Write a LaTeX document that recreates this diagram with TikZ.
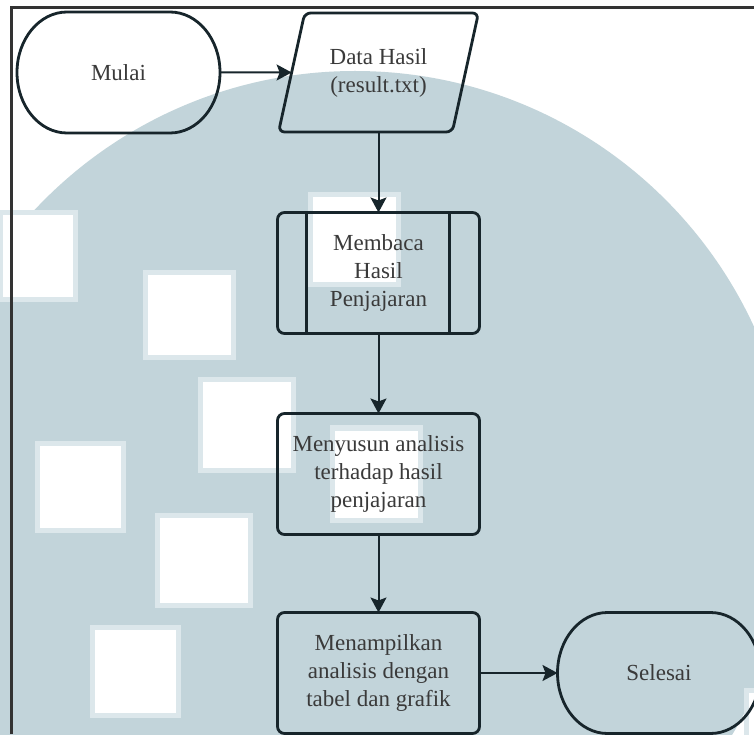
\documentclass[tikz,border=0pt]{standalone}
\usepackage{fontspec}
\setmainfont{Liberation Serif}
\usetikzlibrary{shapes.geometric, arrows.meta}
\definecolor{wash}{HTML}{C2D4DA}
\definecolor{halo}{HTML}{DCE7EB}
\definecolor{ink}{HTML}{17252B}
\definecolor{label}{HTML}{3A3A3A}
\definecolor{frameline}{HTML}{333333}
\begin{document}
\begin{tikzpicture}[x=1pt, y=1pt,
  txt/.style={text=label, align=center, font=\fontsize{23}{28}\selectfont},
  flowbox/.style={txt, draw=ink, line width=2.8pt, rounded corners=7pt,
    minimum width=202pt, minimum height=121pt, inner sep=0pt, outer sep=0pt},
  terminal/.style={txt, minimum width=203pt, minimum height=121pt, inner sep=0pt, outer sep=0pt},
  outline/.style={draw=ink, line width=2.8pt},
  iobox/.style={txt, trapezium, draw=ink, line width=2.8pt, rounded corners=6pt,
    trapezium left angle=70.5, trapezium right angle=109.5, trapezium stretches=true,
    minimum width=200pt, minimum height=119pt, inner sep=0pt, outer sep=0pt},
  flow/.style={draw=ink, line width=2pt, -{Stealth[length=15pt, width=16pt, inset=3pt]}},
  tile/.style={fill=white, draw=halo, line width=5pt}
]
\useasboundingbox (0,0) rectangle (754,734);
\fill[white] (0,0) rectangle (754,734);

% watermark: large disc with white tiles
\begin{scope}
  \clip (0,0) rectangle (754,734);
  \fill[wash] (355,224) circle[radius=439];
  \fill[tile] (0,434) rectangle (75,521);
  \fill[tile] (145,376) rectangle (233,461);
  \fill[tile] (200,264) rectangle (293,354);
  \fill[tile] (37,204) rectangle (123,291);
  \fill[tile] (157,129) rectangle (250,219);
  \fill[tile] (92,19) rectangle (178,107);
  \fill[tile] (310,449) rectangle (398,539);
  \fill[tile] (332,214) rectangle (420,306);
  \fill[tile] (746,-5) rectangle (770,44);
\end{scope}

% page frame
\draw[frameline, line width=2.5pt] (11.5,0) -- (11.5,726.5) -- (754,726.5);

% flowchart nodes
\node[terminal] (mulai) at (118.5,661.5) {Mulai};
\node[iobox] (data) at (378.5,661.5) {Data Hasil\\(result.txt)};
\node[flowbox] (membaca) at (378.5,461) {Membaca\\Hasil\\Penjajaran};
\node[flowbox] (menyusun) at (378.5,260) {Menyusun analisis\\terhadap hasil\\penjajaran};
\node[flowbox] (tampil) at (378.5,61) {Menampilkan\\analisis dengan\\tabel dan grafik};
\node[terminal] (selesai) at (659,61) {Selesai};

% terminal outlines with elliptical ends
\foreach \t in {mulai, selesai}{
  \draw[outline] ([xshift=50pt]\t.north west) -- ([xshift=-50pt]\t.north east)
    arc[start angle=90, end angle=-90, x radius=50pt, y radius=60.5pt]
    -- ([xshift=50pt]\t.south west)
    arc[start angle=270, end angle=90, x radius=50pt, y radius=60.5pt] -- cycle;
}

% side bars of the predefined process
\draw[outline] ([xshift=29pt]membaca.north west) -- ([xshift=29pt]membaca.south west);
\draw[outline] ([xshift=-30pt]membaca.north east) -- ([xshift=-30pt]membaca.south east);

% connectors
\draw[flow] (mulai) -- (data);
\draw[flow] (data) -- (membaca);
\draw[flow] (membaca) -- (menyusun);
\draw[flow] (menyusun) -- (tampil);
\draw[flow] (tampil) -- (selesai);
\end{tikzpicture}
\end{document}
